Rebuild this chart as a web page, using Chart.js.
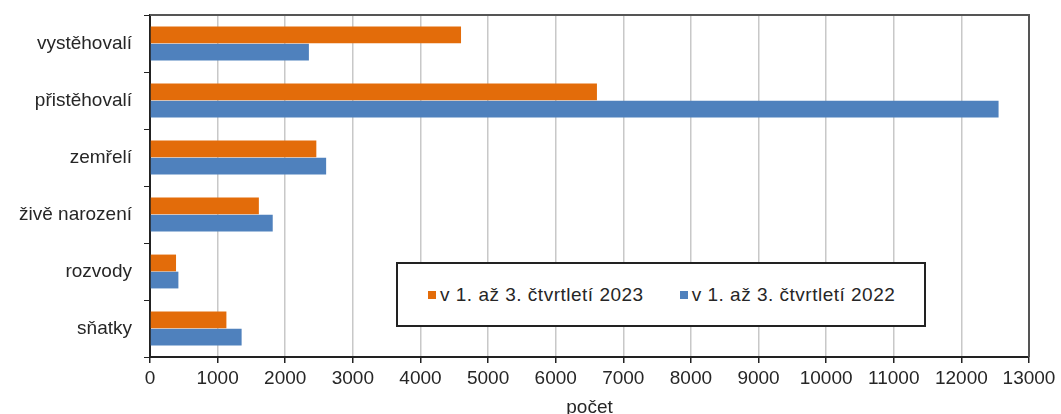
<!DOCTYPE html>
<html>
<head>
<meta charset="utf-8">
<script src="https://cdn.jsdelivr.net/npm/chart.js@4"></script>
<style>
  html, body { margin: 0; padding: 0; background: #fff; }
  #wrap { position: relative; width: 1061px; height: 414px; }
  #legend {
    position: absolute; left: 396px; top: 262px; width: 530px; height: 65px;
    border: 2px solid #222; background: #fff; box-sizing: border-box;
    font-family: "Liberation Sans", Arial, sans-serif; font-size: 19px; color: #262626;
    letter-spacing: 0.5px;
    display: flex; align-items: center; padding-left: 30px; white-space: nowrap;
  }
  #legend span.item { display: inline-flex; align-items: center; margin-right: 36px; }
  #legend i { display: inline-block; width: 8px; height: 8px; margin-right: 4px; }
</style>
</head>
<body>
<div id="wrap">
  <canvas id="chart" width="1061" height="414"></canvas>
  <div id="legend"></div>
</div>
<script>
'use strict';

let categories = ['vystěhovalí', 'přistěhovalí', 'zemřelí', 'živě narození', 'rozvody', 'sňatky'];
let seriesNames = ['v 1. až 3. čtvrtletí 2023', 'v 1. až 3. čtvrtletí 2022'];
let values2023 = [4600, 6610, 2460, 1610, 385, 1130];
let values2022 = [2350, 12550, 2605, 1815, 420, 1355];
let xTicks = [0, 1000, 2000, 3000, 4000, 5000, 6000, 7000, 8000, 9000, 10000, 11000, 12000, 13000];
let colors = ['#e36c0a', '#4f81bd'];

const ctx = document.getElementById('chart');
const font = { family: '"Liberation Sans", Arial, sans-serif', size: 19 };
const textColor = '#262626';

// draws the dark frame on top and right of the plot area
const frame = {
  id: 'frame',
  afterDraw(chart){
    let a = chart.chartArea;
    let c = chart.ctx;
    c.save();
    c.strokeStyle = '#555';
    c.lineWidth = 2;
    c.beginPath();
    c.moveTo(a.left, a.top);
    c.lineTo(a.right, a.top);
    c.lineTo(a.right, a.bottom);
    c.stroke();
    c.restore();
  }
};

new Chart(ctx, {
  type: 'bar',
  data: {
    labels: categories,
    datasets: [
      { label: seriesNames[0], data: values2023, backgroundColor: colors[0] },
      { label: seriesNames[1], data: values2022, backgroundColor: colors[1] }
    ]
  },
  options: {
    indexAxis: 'y',
    responsive: false,
    animation: false,
    layout: { padding: { top: 15, right: 32, left: 0, bottom: 0 } },
    datasets: { bar: { categoryPercentage: 0.6, barPercentage: 0.98 } },
    plugins: { legend: { display: false }, tooltip: { enabled: false } },
    scales: {
      x: {
        min: 0, max: 13000,
        afterBuildTicks(scale){ scale.ticks = xTicks.map(v => ({ value: v })); },
        afterFit(scale){ scale.height = 57; },
        grid: { color: '#c8c8c8', lineWidth: 1.5, tickColor: '#222', tickLength: 6 },
        border: { color: '#222', width: 2 },
        ticks: { color: textColor, font: font, maxRotation: 0, autoSkip: false, padding: 4,
          callback: v => String(v) },
        title: { display: true, text: 'počet', color: textColor, font: font, padding: { top: 0, bottom: -5 } }
      },
      y: {
        afterFit(scale){
          scale.width = 150;
          scale.paddingTop = 0;
          scale.paddingBottom = 0;
        },
        grid: { drawOnChartArea: false, tickColor: '#222', tickLength: 6 },
        border: { color: '#222', width: 2 },
        ticks: { color: textColor, font: font, padding: 12 }
      }
    }
  },
  plugins: [frame]
});

let legend = document.getElementById('legend');
for(let i=0; i<seriesNames.length; i++){
  let item = document.createElement('span');
  item.className = 'item';
  item.innerHTML = `<i style="background:${colors[i]}"></i>${seriesNames[i]}`;
  legend.appendChild(item);
}
</script>
</body>
</html>
